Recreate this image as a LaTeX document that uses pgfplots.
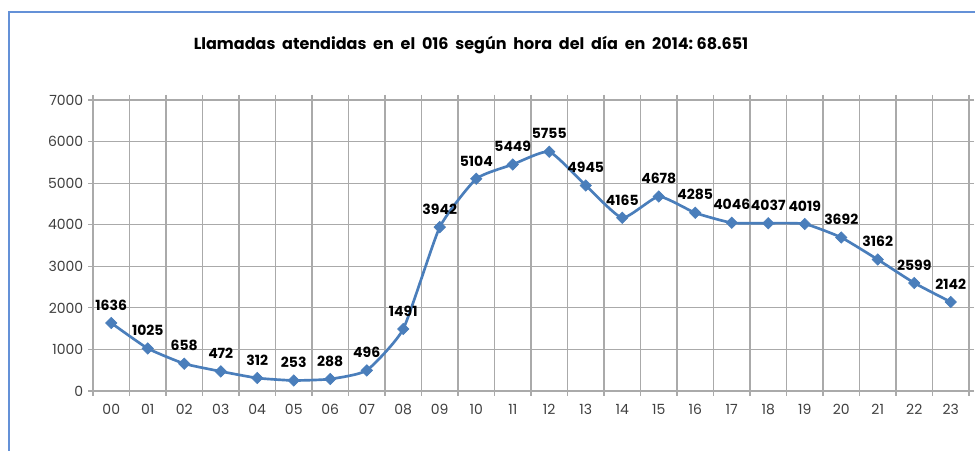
\documentclass[border=0pt]{standalone}
\usepackage{pgfplots}
\pgfplotsset{compat=1.18}
\usepackage{fontspec}
\setmainfont{Poppins}
\definecolor{lineblue}{RGB}{74,126,187}
\definecolor{frameblue}{RGB}{100,145,215}
\definecolor{gridgray}{RGB}{170,170,170}
\begin{document}
\begin{tikzpicture}
\clip (0,0) rectangle (731.25pt,337.5pt);
\fill[white] (0,0) rectangle (731.25pt,337.5pt);
\draw[frameblue, line width=2pt] (6.75pt,-20pt) -- (6.75pt,328.5pt) -- (760pt,328.5pt);
\node[font=\bfseries\fontsize{12}{15}\selectfont] at (353.25pt,303.75pt) {Llamadas\ \ atendidas\ \ en\ \ el\ \ 016\ \ según\ \ hora\ \ del\ \ día\ \ en\ \ 2014:\ 68.651};
\begin{axis}[
  at={(69.75pt,44.25pt)}, anchor=south west,
  scale only axis, width=657pt, height=218.25pt,
  xmin=-0.5, xmax=23.5, ymin=0, ymax=7000,
  xtick={0,...,23},
  xticklabels={00,01,02,03,04,05,06,07,08,09,10,11,12,13,14,15,16,17,18,19,20,21,22,23},
  minor xtick={-0.5,0.5,...,23.5},
  ytick={0,1000,...,7000},
  xminorgrids=true, ymajorgrids=true,
  grid style={gridgray, line width=0.8pt},
  minor grid style={gridgray, line width=0.8pt},
  axis line style={gridgray, line width=0.8pt},
  major x tick style={draw=none},
  minor x tick style={gridgray, line width=0.8pt},
  ytick style={gridgray, line width=0.8pt},
  tick align=outside, major tick length=3.75pt, minor tick length=3.75pt,
  /pgf/number format/1000 sep={},
  /pgf/number format/assume math mode=true,
  tick label style={font=\fontsize{10.5}{12}\selectfont, text=black!75},
  xticklabel style={yshift=-2.5pt},
  clip=false,
]
\addplot[lineblue, line width=2pt, smooth, tension=0.3, mark=square*, mark size=3pt,
  mark options={fill=lineblue, draw=lineblue, line width=0.5pt, rotate=45},
  nodes near coords,
  every node near coord/.append style={font=\bfseries\fontsize{10.5}{12}\selectfont, text=black, anchor=south, yshift=6pt}]
coordinates {
(0,1636) (1,1025) (2,658) (3,472) (4,312) (5,253) (6,288) (7,496) (8,1491) (9,3942) (10,5104) (11,5449)
(12,5755) (13,4945) (14,4165) (15,4678) (16,4285) (17,4046) (18,4037) (19,4019) (20,3692) (21,3162) (22,2599) (23,2142)
};
\end{axis}
\end{tikzpicture}
\end{document}
